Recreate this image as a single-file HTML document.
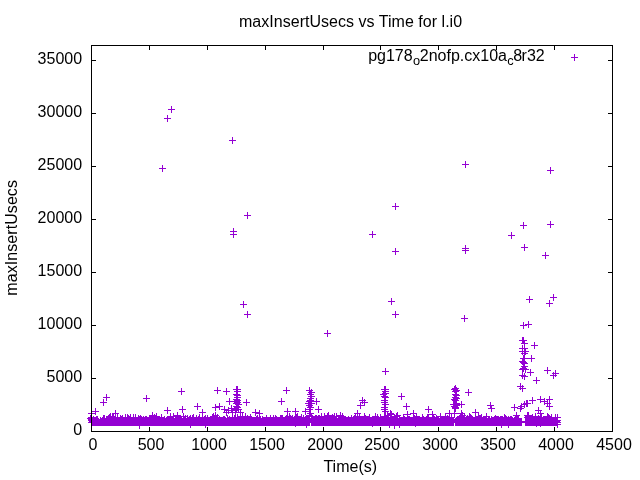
<!DOCTYPE html>
<html><head><meta charset="utf-8"><style>html,body{margin:0;padding:0;background:#fff;width:640px;height:480px;overflow:hidden}svg{display:block;will-change:transform}</style></head>
<body><svg width="640" height="480" viewBox="0 0 640 480"><rect width="640" height="480" fill="#fff"/><path d="M92 378.5h4M612 378.5h-4M92 325.5h4M612 325.5h-4M92 272.5h4M612 272.5h-4M92 219.5h4M612 219.5h-4M92 166.5h4M612 166.5h-4M92 113.5h4M612 113.5h-4M92 60.5h4M612 60.5h-4M149.5 431v-4M149.5 46v4M207.5 431v-4M207.5 46v4M265.5 431v-4M265.5 46v4M323.5 431v-4M323.5 46v4M380.5 431v-4M380.5 46v4M438.5 431v-4M438.5 46v4M496.5 431v-4M496.5 46v4M554.5 431v-4M554.5 46v4" stroke="#000" stroke-width="1" fill="none" shape-rendering="crispEdges"/><path d="M171 106h1v1h-1zM171 107h1v1h-1zM171 108h1v1h-1zM168 109h7v1h-7zM171 110h1v1h-1zM171 111h1v1h-1zM171 112h1v1h-1zM167 115h1v1h-1zM167 116h1v1h-1zM167 117h1v1h-1zM164 118h7v1h-7zM167 119h1v1h-1zM167 120h1v1h-1zM167 121h1v1h-1zM232 137h1v1h-1zM232 138h1v1h-1zM232 139h1v1h-1zM229 140h7v1h-7zM232 141h1v1h-1zM232 142h1v1h-1zM232 143h1v1h-1zM465 161h1v1h-1zM465 162h1v1h-1zM465 163h1v1h-1zM462 164h7v1h-7zM162 165h1v1h-1zM465 165h1v1h-1zM162 166h1v1h-1zM465 166h1v1h-1zM162 167h1v1h-1zM465 167h1v1h-1zM550 167h1v1h-1zM159 168h7v1h-7zM550 168h1v1h-1zM162 169h1v1h-1zM550 169h1v1h-1zM162 170h1v1h-1zM547 170h7v1h-7zM162 171h1v1h-1zM550 171h1v1h-1zM550 172h1v1h-1zM550 173h1v1h-1zM395 203h1v1h-1zM395 204h1v1h-1zM395 205h1v1h-1zM392 206h7v1h-7zM395 207h1v1h-1zM395 208h1v1h-1zM395 209h1v1h-1zM247 212h1v1h-1zM247 213h1v1h-1zM247 214h1v1h-1zM244 215h7v1h-7zM247 216h1v1h-1zM247 217h1v1h-1zM247 218h1v1h-1zM550 221h1v1h-1zM523 222h1v1h-1zM550 222h1v1h-1zM523 223h1v1h-1zM550 223h1v1h-1zM523 224h1v1h-1zM547 224h7v1h-7zM520 225h7v1h-7zM550 225h1v1h-1zM523 226h1v1h-1zM550 226h1v1h-1zM523 227h1v1h-1zM550 227h1v1h-1zM233 228h1v1h-1zM523 228h1v1h-1zM233 229h1v1h-1zM233 230h1v1h-1zM230 231h7v1h-7zM372 231h1v1h-1zM233 232h1v1h-1zM372 232h1v1h-1zM511 232h1v1h-1zM233 233h1v1h-1zM372 233h1v1h-1zM511 233h1v1h-1zM230 234h7v1h-7zM369 234h7v1h-7zM511 234h1v1h-1zM233 235h1v1h-1zM372 235h1v1h-1zM508 235h7v1h-7zM233 236h1v1h-1zM372 236h1v1h-1zM511 236h1v1h-1zM233 237h1v1h-1zM372 237h1v1h-1zM511 237h1v1h-1zM511 238h1v1h-1zM524 244h1v1h-1zM465 245h1v1h-1zM524 245h1v1h-1zM465 246h1v1h-1zM524 246h1v1h-1zM465 247h1v1h-1zM521 247h7v1h-7zM395 248h1v1h-1zM462 248h7v1h-7zM524 248h1v1h-1zM395 249h1v1h-1zM465 249h1v1h-1zM524 249h1v1h-1zM395 250h1v1h-1zM462 250h7v1h-7zM524 250h1v1h-1zM392 251h7v1h-7zM465 251h1v1h-1zM395 252h1v1h-1zM465 252h1v1h-1zM545 252h1v1h-1zM395 253h1v1h-1zM465 253h1v1h-1zM545 253h1v1h-1zM395 254h1v1h-1zM545 254h1v1h-1zM542 255h7v1h-7zM545 256h1v1h-1zM545 257h1v1h-1zM545 258h1v1h-1zM553 294h1v1h-1zM553 295h1v1h-1zM529 296h1v1h-1zM553 296h1v1h-1zM529 297h1v1h-1zM550 297h7v1h-7zM391 298h1v1h-1zM529 298h1v1h-1zM553 298h1v1h-1zM391 299h1v1h-1zM526 299h7v1h-7zM553 299h1v1h-1zM391 300h1v1h-1zM529 300h1v1h-1zM549 300h1v1h-1zM553 300h1v1h-1zM243 301h1v1h-1zM388 301h7v1h-7zM529 301h1v1h-1zM549 301h1v1h-1zM243 302h1v1h-1zM391 302h1v1h-1zM529 302h1v1h-1zM549 302h1v1h-1zM243 303h1v1h-1zM391 303h1v1h-1zM546 303h7v1h-7zM240 304h7v1h-7zM391 304h1v1h-1zM549 304h1v1h-1zM243 305h1v1h-1zM549 305h1v1h-1zM243 306h1v1h-1zM549 306h1v1h-1zM243 307h1v1h-1zM247 311h1v1h-1zM395 311h1v1h-1zM247 312h1v1h-1zM395 312h1v1h-1zM247 313h1v1h-1zM395 313h1v1h-1zM244 314h7v1h-7zM392 314h7v1h-7zM247 315h1v1h-1zM395 315h1v1h-1zM464 315h1v1h-1zM247 316h1v1h-1zM395 316h1v1h-1zM464 316h1v1h-1zM247 317h1v1h-1zM395 317h1v1h-1zM464 317h1v1h-1zM461 318h7v1h-7zM464 319h1v1h-1zM464 320h1v1h-1zM464 321h1v1h-1zM528 321h1v1h-1zM523 322h1v1h-1zM528 322h1v1h-1zM523 323h1v1h-1zM528 323h1v1h-1zM523 324h1v1h-1zM525 324h7v1h-7zM520 325h7v1h-7zM528 325h1v1h-1zM523 326h1v1h-1zM528 326h1v1h-1zM523 327h1v1h-1zM528 327h1v1h-1zM523 328h1v1h-1zM327 330h1v1h-1zM327 331h1v1h-1zM327 332h1v1h-1zM324 333h7v1h-7zM327 334h1v1h-1zM327 335h1v1h-1zM327 336h1v1h-1zM522 337h2v1h-2zM522 338h2v1h-2zM522 339h2v1h-2zM519 340h8v1h-8zM522 341h3v1h-3zM522 342h3v1h-3zM534 342h1v1h-1zM521 343h7v1h-7zM534 343h1v1h-1zM524 344h1v1h-1zM534 344h1v1h-1zM522 345h1v1h-1zM524 345h1v1h-1zM531 345h7v1h-7zM522 346h1v1h-1zM524 346h1v1h-1zM534 346h1v1h-1zM522 347h1v1h-1zM524 347h1v1h-1zM534 347h1v1h-1zM519 348h9v1h-9zM534 348h1v1h-1zM522 349h1v1h-1zM524 349h2v1h-2zM522 350h1v1h-1zM524 350h2v1h-2zM519 351h10v1h-10zM522 352h1v1h-1zM524 352h2v1h-2zM521 353h7v1h-7zM522 354h1v1h-1zM524 354h2v1h-2zM523 355h2v1h-2zM531 355h1v1h-1zM523 356h2v1h-2zM531 356h1v1h-1zM523 357h2v1h-2zM531 357h1v1h-1zM520 358h15v1h-15zM522 359h3v1h-3zM531 359h1v1h-1zM522 360h3v1h-3zM531 360h1v1h-1zM519 361h7v1h-7zM531 361h1v1h-1zM520 362h7v1h-7zM521 363h7v1h-7zM522 364h3v1h-3zM523 365h2v1h-2zM521 366h7v1h-7zM522 367h4v1h-4zM547 367h1v1h-1zM385 368h1v1h-1zM520 368h7v1h-7zM547 368h1v1h-1zM385 369h1v1h-1zM519 369h10v1h-10zM530 369h1v1h-1zM547 369h1v1h-1zM385 370h1v1h-1zM522 370h2v1h-2zM525 370h1v1h-1zM530 370h1v1h-1zM544 370h7v1h-7zM555 370h1v1h-1zM382 371h7v1h-7zM522 371h2v1h-2zM525 371h1v1h-1zM530 371h1v1h-1zM547 371h1v1h-1zM555 371h1v1h-1zM385 372h1v1h-1zM522 372h1v1h-1zM525 372h1v1h-1zM527 372h7v1h-7zM547 372h1v1h-1zM553 372h1v1h-1zM555 372h1v1h-1zM385 373h1v1h-1zM522 373h1v1h-1zM524 373h1v1h-1zM530 373h1v1h-1zM547 373h1v1h-1zM552 373h7v1h-7zM385 374h1v1h-1zM522 374h1v1h-1zM524 374h1v1h-1zM530 374h1v1h-1zM553 374h1v1h-1zM555 374h1v1h-1zM519 375h7v1h-7zM530 375h1v1h-1zM550 375h7v1h-7zM521 376h7v1h-7zM553 376h1v1h-1zM555 376h1v1h-1zM522 377h1v1h-1zM524 377h1v1h-1zM536 377h1v1h-1zM553 377h1v1h-1zM522 378h1v1h-1zM524 378h1v1h-1zM536 378h1v1h-1zM553 378h1v1h-1zM524 379h1v1h-1zM536 379h1v1h-1zM533 380h7v1h-7zM536 381h1v1h-1zM536 382h1v1h-1zM520 383h1v1h-1zM536 383h1v1h-1zM520 384h1v1h-1zM455 385h1v1h-1zM520 385h1v1h-1zM522 385h1v1h-1zM236 386h2v1h-2zM384 386h2v1h-2zM454 386h2v1h-2zM517 386h7v1h-7zM217 387h1v1h-1zM236 387h2v1h-2zM286 387h1v1h-1zM309 387h1v1h-1zM384 387h2v1h-2zM454 387h3v1h-3zM520 387h1v1h-1zM522 387h1v1h-1zM181 388h1v1h-1zM217 388h1v1h-1zM226 388h1v1h-1zM236 388h2v1h-2zM286 388h1v1h-1zM309 388h1v1h-1zM384 388h2v1h-2zM452 388h7v1h-7zM519 388h7v1h-7zM181 389h1v1h-1zM217 389h1v1h-1zM226 389h1v1h-1zM233 389h8v1h-8zM286 389h1v1h-1zM309 389h1v1h-1zM311 389h1v1h-1zM381 389h8v1h-8zM451 389h7v1h-7zM468 389h1v1h-1zM520 389h1v1h-1zM522 389h1v1h-1zM181 390h1v1h-1zM214 390h7v1h-7zM226 390h1v1h-1zM236 390h2v1h-2zM283 390h7v1h-7zM306 390h7v1h-7zM384 390h2v1h-2zM453 390h7v1h-7zM468 390h1v1h-1zM522 390h1v1h-1zM178 391h7v1h-7zM217 391h1v1h-1zM223 391h7v1h-7zM234 391h7v1h-7zM286 391h1v1h-1zM309 391h3v1h-3zM382 391h7v1h-7zM452 391h7v1h-7zM468 391h1v1h-1zM522 391h1v1h-1zM181 392h1v1h-1zM217 392h1v1h-1zM226 392h1v1h-1zM236 392h2v1h-2zM286 392h1v1h-1zM308 392h7v1h-7zM383 392h3v1h-3zM454 392h3v1h-3zM465 392h7v1h-7zM181 393h1v1h-1zM217 393h1v1h-1zM226 393h1v1h-1zM236 393h2v1h-2zM286 393h1v1h-1zM309 393h3v1h-3zM382 393h7v1h-7zM401 393h1v1h-1zM455 393h2v1h-2zM468 393h1v1h-1zM106 394h1v1h-1zM181 394h1v1h-1zM226 394h1v1h-1zM233 394h7v1h-7zM307 394h7v1h-7zM380 394h7v1h-7zM401 394h1v1h-1zM452 394h7v1h-7zM468 394h1v1h-1zM106 395h1v1h-1zM146 395h1v1h-1zM234 395h7v1h-7zM310 395h2v1h-2zM383 395h3v1h-3zM401 395h1v1h-1zM453 395h7v1h-7zM468 395h1v1h-1zM106 396h1v1h-1zM146 396h1v1h-1zM236 396h2v1h-2zM308 396h7v1h-7zM381 396h7v1h-7zM398 396h7v1h-7zM454 396h3v1h-3zM540 396h1v1h-1zM549 396h1v1h-1zM103 397h7v1h-7zM146 397h1v1h-1zM234 397h7v1h-7zM310 397h2v1h-2zM362 397h1v1h-1zM382 397h7v1h-7zM401 397h1v1h-1zM452 397h7v1h-7zM532 397h1v1h-1zM540 397h1v1h-1zM549 397h1v1h-1zM106 398h1v1h-1zM143 398h7v1h-7zM229 398h1v1h-1zM236 398h2v1h-2zM281 398h1v1h-1zM307 398h7v1h-7zM316 398h1v1h-1zM362 398h1v1h-1zM384 398h2v1h-2zM401 398h1v1h-1zM453 398h7v1h-7zM532 398h1v1h-1zM540 398h1v1h-1zM544 398h1v1h-1zM549 398h1v1h-1zM103 399h1v1h-1zM106 399h1v1h-1zM146 399h1v1h-1zM229 399h1v1h-1zM233 399h7v1h-7zM246 399h1v1h-1zM281 399h1v1h-1zM309 399h3v1h-3zM316 399h1v1h-1zM362 399h1v1h-1zM364 399h1v1h-1zM384 399h2v1h-2zM401 399h1v1h-1zM451 399h7v1h-7zM532 399h1v1h-1zM537 399h8v1h-8zM546 399h7v1h-7zM103 400h1v1h-1zM106 400h1v1h-1zM146 400h1v1h-1zM229 400h1v1h-1zM234 400h7v1h-7zM246 400h1v1h-1zM281 400h1v1h-1zM307 400h7v1h-7zM316 400h1v1h-1zM359 400h7v1h-7zM381 400h7v1h-7zM452 400h7v1h-7zM526 400h2v1h-2zM529 400h7v1h-7zM540 400h1v1h-1zM544 400h1v1h-1zM547 400h1v1h-1zM549 400h1v1h-1zM103 401h1v1h-1zM146 401h1v1h-1zM226 401h14v1h-14zM246 401h1v1h-1zM278 401h7v1h-7zM306 401h14v1h-14zM362 401h1v1h-1zM364 401h1v1h-1zM384 401h2v1h-2zM453 401h4v1h-4zM461 401h1v1h-1zM524 401h1v1h-1zM526 401h2v1h-2zM532 401h1v1h-1zM540 401h8v1h-8zM549 401h1v1h-1zM100 402h7v1h-7zM229 402h1v1h-1zM234 402h7v1h-7zM243 402h7v1h-7zM281 402h1v1h-1zM308 402h4v1h-4zM316 402h1v1h-1zM360 402h8v1h-8zM381 402h7v1h-7zM453 402h4v1h-4zM461 402h1v1h-1zM490 402h1v1h-1zM524 402h1v1h-1zM526 402h2v1h-2zM532 402h1v1h-1zM540 402h1v1h-1zM544 402h1v1h-1zM547 402h1v1h-1zM549 402h1v1h-1zM103 403h1v1h-1zM197 403h1v1h-1zM219 403h1v1h-1zM229 403h1v1h-1zM233 403h7v1h-7zM246 403h1v1h-1zM281 403h1v1h-1zM305 403h10v1h-10zM316 403h1v1h-1zM360 403h1v1h-1zM362 403h1v1h-1zM364 403h1v1h-1zM384 403h2v1h-2zM406 403h1v1h-1zM453 403h7v1h-7zM461 403h1v1h-1zM490 403h1v1h-1zM521 403h1v1h-1zM523 403h8v1h-8zM532 403h1v1h-1zM544 403h7v1h-7zM103 404h1v1h-1zM197 404h1v1h-1zM215 404h1v1h-1zM219 404h1v1h-1zM229 404h1v1h-1zM235 404h7v1h-7zM246 404h1v1h-1zM281 404h1v1h-1zM308 404h4v1h-4zM316 404h1v1h-1zM360 404h1v1h-1zM364 404h1v1h-1zM382 404h7v1h-7zM406 404h1v1h-1zM450 404h15v1h-15zM490 404h1v1h-1zM514 404h1v1h-1zM521 404h7v1h-7zM544 404h1v1h-1zM547 404h1v1h-1zM549 404h1v1h-1zM103 405h1v1h-1zM197 405h1v1h-1zM215 405h1v1h-1zM219 405h1v1h-1zM231 405h1v1h-1zM236 405h3v1h-3zM246 405h1v1h-1zM306 405h7v1h-7zM357 405h8v1h-8zM384 405h2v1h-2zM406 405h1v1h-1zM453 405h7v1h-7zM461 405h1v1h-1zM487 405h7v1h-7zM514 405h1v1h-1zM520 405h2v1h-2zM524 405h1v1h-1zM526 405h2v1h-2zM547 405h1v1h-1zM549 405h1v1h-1zM182 406h1v1h-1zM194 406h7v1h-7zM215 406h8v1h-8zM224 406h1v1h-1zM231 406h1v1h-1zM233 406h7v1h-7zM308 406h4v1h-4zM318 406h1v1h-1zM360 406h1v1h-1zM384 406h2v1h-2zM403 406h7v1h-7zM428 406h1v1h-1zM451 406h7v1h-7zM461 406h1v1h-1zM490 406h2v1h-2zM514 406h1v1h-1zM518 406h7v1h-7zM526 406h2v1h-2zM546 406h7v1h-7zM167 407h1v1h-1zM182 407h1v1h-1zM197 407h1v1h-1zM212 407h8v1h-8zM224 407h1v1h-1zM228 407h1v1h-1zM231 407h1v1h-1zM234 407h7v1h-7zM307 407h7v1h-7zM318 407h1v1h-1zM360 407h1v1h-1zM381 407h7v1h-7zM406 407h1v1h-1zM428 407h1v1h-1zM452 407h7v1h-7zM461 407h1v1h-1zM490 407h2v1h-2zM511 407h7v1h-7zM520 407h2v1h-2zM524 407h1v1h-1zM538 407h1v1h-1zM549 407h1v1h-1zM95 408h1v1h-1zM167 408h1v1h-1zM182 408h1v1h-1zM197 408h1v1h-1zM215 408h1v1h-1zM219 408h1v1h-1zM224 408h1v1h-1zM228 408h11v1h-11zM287 408h1v1h-1zM295 408h1v1h-1zM305 408h1v1h-1zM309 408h2v1h-2zM318 408h1v1h-1zM360 408h1v1h-1zM384 408h2v1h-2zM406 408h1v1h-1zM428 408h1v1h-1zM452 408h7v1h-7zM488 408h7v1h-7zM514 408h1v1h-1zM517 408h7v1h-7zM538 408h1v1h-1zM549 408h1v1h-1zM95 409h1v1h-1zM167 409h1v1h-1zM179 409h7v1h-7zM197 409h1v1h-1zM202 409h1v1h-1zM215 409h1v1h-1zM219 409h1v1h-1zM221 409h8v1h-8zM231 409h11v1h-11zM255 409h1v1h-1zM287 409h1v1h-1zM295 409h1v1h-1zM305 409h8v1h-8zM315 409h7v1h-7zM381 409h7v1h-7zM406 409h1v1h-1zM425 409h7v1h-7zM454 409h2v1h-2zM475 409h1v1h-1zM491 409h1v1h-1zM514 409h1v1h-1zM520 409h2v1h-2zM538 409h1v1h-1zM549 409h1v1h-1zM91 410h1v1h-1zM95 410h1v1h-1zM115 410h1v1h-1zM164 410h7v1h-7zM182 410h1v1h-1zM202 410h1v1h-1zM215 410h1v1h-1zM224 410h15v1h-15zM240 410h1v1h-1zM255 410h1v1h-1zM259 410h1v1h-1zM287 410h1v1h-1zM295 410h1v1h-1zM305 410h1v1h-1zM309 410h2v1h-2zM318 410h1v1h-1zM357 410h1v1h-1zM384 410h2v1h-2zM390 410h1v1h-1zM413 410h1v1h-1zM428 410h1v1h-1zM449 410h1v1h-1zM454 410h2v1h-2zM461 410h1v1h-1zM475 410h1v1h-1zM491 410h1v1h-1zM514 410h1v1h-1zM520 410h1v1h-1zM535 410h7v1h-7zM91 411h8v1h-8zM115 411h1v1h-1zM167 411h1v1h-1zM182 411h1v1h-1zM202 411h1v1h-1zM224 411h1v1h-1zM226 411h1v1h-1zM228 411h1v1h-1zM231 411h2v1h-2zM235 411h2v1h-2zM238 411h1v1h-1zM240 411h1v1h-1zM255 411h1v1h-1zM259 411h1v1h-1zM284 411h7v1h-7zM292 411h7v1h-7zM302 411h9v1h-9zM318 411h1v1h-1zM357 411h1v1h-1zM382 411h7v1h-7zM390 411h2v1h-2zM407 411h1v1h-1zM413 411h1v1h-1zM428 411h1v1h-1zM432 411h1v1h-1zM449 411h1v1h-1zM454 411h2v1h-2zM461 411h1v1h-1zM475 411h1v1h-1zM491 411h1v1h-1zM520 411h1v1h-1zM538 411h1v1h-1zM540 411h1v1h-1zM91 412h1v1h-1zM95 412h1v1h-1zM115 412h1v1h-1zM152 412h1v1h-1zM167 412h1v1h-1zM177 412h1v1h-1zM182 412h1v1h-1zM199 412h7v1h-7zM215 412h1v1h-1zM223 412h21v1h-21zM252 412h8v1h-8zM287 412h1v1h-1zM295 412h1v1h-1zM305 412h1v1h-1zM309 412h2v1h-2zM318 412h1v1h-1zM328 412h1v1h-1zM340 412h1v1h-1zM357 412h1v1h-1zM384 412h2v1h-2zM387 412h1v1h-1zM390 412h2v1h-2zM397 412h1v1h-1zM407 412h1v1h-1zM413 412h1v1h-1zM428 412h1v1h-1zM432 412h1v1h-1zM449 412h1v1h-1zM454 412h1v1h-1zM461 412h2v1h-2zM472 412h7v1h-7zM516 412h1v1h-1zM527 412h2v1h-2zM538 412h1v1h-1zM540 412h1v1h-1zM88 413h8v1h-8zM110 413h1v1h-1zM112 413h7v1h-7zM152 413h1v1h-1zM156 413h1v1h-1zM167 413h1v1h-1zM170 413h1v1h-1zM173 413h1v1h-1zM177 413h1v1h-1zM183 413h1v1h-1zM202 413h1v1h-1zM213 413h1v1h-1zM215 413h1v1h-1zM226 413h1v1h-1zM228 413h1v1h-1zM232 413h1v1h-1zM235 413h1v1h-1zM240 413h1v1h-1zM242 413h1v1h-1zM245 413h1v1h-1zM255 413h8v1h-8zM287 413h1v1h-1zM289 413h1v1h-1zM295 413h1v1h-1zM297 413h1v1h-1zM305 413h1v1h-1zM307 413h7v1h-7zM321 413h1v1h-1zM324 413h1v1h-1zM327 413h2v1h-2zM334 413h1v1h-1zM336 413h1v1h-1zM340 413h1v1h-1zM342 413h1v1h-1zM354 413h7v1h-7zM364 413h1v1h-1zM375 413h1v1h-1zM384 413h2v1h-2zM387 413h7v1h-7zM396 413h2v1h-2zM407 413h1v1h-1zM410 413h7v1h-7zM432 413h1v1h-1zM440 413h1v1h-1zM445 413h20v1h-20zM469 413h1v1h-1zM475 413h1v1h-1zM478 413h1v1h-1zM486 413h1v1h-1zM516 413h1v1h-1zM527 413h2v1h-2zM535 413h1v1h-1zM537 413h7v1h-7zM547 413h1v1h-1zM91 414h1v1h-1zM95 414h1v1h-1zM109 414h2v1h-2zM112 414h2v1h-2zM115 414h1v1h-1zM117 414h1v1h-1zM125 414h1v1h-1zM127 414h1v1h-1zM130 414h1v1h-1zM133 414h1v1h-1zM135 414h1v1h-1zM152 414h1v1h-1zM154 414h1v1h-1zM156 414h1v1h-1zM161 414h1v1h-1zM170 414h1v1h-1zM173 414h1v1h-1zM177 414h1v1h-1zM183 414h1v1h-1zM193 414h1v1h-1zM199 414h1v1h-1zM202 414h1v1h-1zM212 414h2v1h-2zM215 414h1v1h-1zM217 414h1v1h-1zM226 414h1v1h-1zM232 414h1v1h-1zM235 414h1v1h-1zM237 414h1v1h-1zM240 414h1v1h-1zM242 414h1v1h-1zM245 414h1v1h-1zM250 414h1v1h-1zM255 414h1v1h-1zM259 414h1v1h-1zM287 414h1v1h-1zM289 414h1v1h-1zM295 414h3v1h-3zM301 414h1v1h-1zM305 414h1v1h-1zM309 414h3v1h-3zM321 414h1v1h-1zM324 414h1v1h-1zM327 414h2v1h-2zM332 414h1v1h-1zM334 414h1v1h-1zM336 414h1v1h-1zM340 414h1v1h-1zM342 414h1v1h-1zM355 414h1v1h-1zM357 414h1v1h-1zM359 414h1v1h-1zM364 414h1v1h-1zM369 414h1v1h-1zM375 414h1v1h-1zM377 414h1v1h-1zM380 414h1v1h-1zM384 414h2v1h-2zM387 414h8v1h-8zM396 414h2v1h-2zM403 414h8v1h-8zM413 414h1v1h-1zM416 414h1v1h-1zM422 414h1v1h-1zM427 414h9v1h-9zM440 414h1v1h-1zM445 414h1v1h-1zM449 414h1v1h-1zM451 414h1v1h-1zM454 414h1v1h-1zM460 414h3v1h-3zM464 414h1v1h-1zM469 414h2v1h-2zM475 414h1v1h-1zM478 414h1v1h-1zM481 414h1v1h-1zM486 414h1v1h-1zM504 414h1v1h-1zM516 414h1v1h-1zM527 414h2v1h-2zM532 414h1v1h-1zM535 414h1v1h-1zM540 414h2v1h-2zM547 414h2v1h-2zM551 414h1v1h-1zM555 414h1v1h-1zM557 414h1v1h-1zM90 415h2v1h-2zM103 415h2v1h-2zM108 415h3v1h-3zM112 415h2v1h-2zM115 415h1v1h-1zM117 415h1v1h-1zM120 415h1v1h-1zM122 415h1v1h-1zM125 415h1v1h-1zM127 415h2v1h-2zM130 415h1v1h-1zM133 415h1v1h-1zM135 415h1v1h-1zM138 415h1v1h-1zM140 415h1v1h-1zM149 415h8v1h-8zM161 415h1v1h-1zM170 415h1v1h-1zM173 415h8v1h-8zM183 415h1v1h-1zM185 415h1v1h-1zM187 415h1v1h-1zM190 415h1v1h-1zM192 415h2v1h-2zM196 415h1v1h-1zM199 415h1v1h-1zM202 415h1v1h-1zM205 415h1v1h-1zM207 415h1v1h-1zM212 415h7v1h-7zM226 415h2v1h-2zM232 415h1v1h-1zM234 415h2v1h-2zM237 415h1v1h-1zM240 415h1v1h-1zM242 415h1v1h-1zM245 415h1v1h-1zM247 415h1v1h-1zM250 415h1v1h-1zM255 415h1v1h-1zM257 415h1v1h-1zM259 415h1v1h-1zM266 415h1v1h-1zM270 415h1v1h-1zM273 415h1v1h-1zM275 415h1v1h-1zM280 415h3v1h-3zM286 415h2v1h-2zM289 415h2v1h-2zM292 415h1v1h-1zM295 415h3v1h-3zM301 415h1v1h-1zM303 415h1v1h-1zM306 415h7v1h-7zM315 415h2v1h-2zM318 415h2v1h-2zM321 415h1v1h-1zM324 415h11v1h-11zM336 415h8v1h-8zM351 415h1v1h-1zM354 415h2v1h-2zM357 415h1v1h-1zM359 415h1v1h-1zM364 415h2v1h-2zM369 415h1v1h-1zM375 415h1v1h-1zM377 415h1v1h-1zM380 415h1v1h-1zM384 415h8v1h-8zM394 415h7v1h-7zM403 415h1v1h-1zM407 415h1v1h-1zM413 415h2v1h-2zM416 415h1v1h-1zM422 415h1v1h-1zM427 415h2v1h-2zM432 415h2v1h-2zM436 415h1v1h-1zM440 415h1v1h-1zM445 415h1v1h-1zM447 415h1v1h-1zM449 415h1v1h-1zM451 415h1v1h-1zM454 415h1v1h-1zM459 415h7v1h-7zM467 415h1v1h-1zM469 415h3v1h-3zM475 415h1v1h-1zM478 415h4v1h-4zM486 415h1v1h-1zM495 415h1v1h-1zM504 415h2v1h-2zM513 415h7v1h-7zM524 415h9v1h-9zM535 415h1v1h-1zM538 415h1v1h-1zM540 415h2v1h-2zM547 415h3v1h-3zM551 415h1v1h-1zM555 415h1v1h-1zM557 415h1v1h-1zM90 416h2v1h-2zM93 416h1v1h-1zM96 416h2v1h-2zM103 416h2v1h-2zM106 416h10v1h-10zM117 416h1v1h-1zM120 416h3v1h-3zM125 416h1v1h-1zM127 416h4v1h-4zM133 416h1v1h-1zM135 416h1v1h-1zM138 416h4v1h-4zM143 416h1v1h-1zM145 416h2v1h-2zM149 416h11v1h-11zM161 416h1v1h-1zM164 416h1v1h-1zM167 416h21v1h-21zM189 416h2v1h-2zM192 416h2v1h-2zM196 416h1v1h-1zM198 416h2v1h-2zM202 416h1v1h-1zM204 416h2v1h-2zM207 416h1v1h-1zM210 416h8v1h-8zM219 416h1v1h-1zM223 416h2v1h-2zM227 416h1v1h-1zM229 416h1v1h-1zM232 416h1v1h-1zM234 416h2v1h-2zM237 416h15v1h-15zM256 416h2v1h-2zM259 416h2v1h-2zM262 416h1v1h-1zM266 416h1v1h-1zM270 416h1v1h-1zM273 416h1v1h-1zM275 416h2v1h-2zM280 416h3v1h-3zM285 416h8v1h-8zM294 416h8v1h-8zM303 416h1v1h-1zM305 416h41v1h-41zM348 416h1v1h-1zM351 416h1v1h-1zM353 416h17v1h-17zM372 416h7v1h-7zM380 416h9v1h-9zM390 416h10v1h-10zM403 416h2v1h-2zM407 416h3v1h-3zM413 416h7v1h-7zM422 416h2v1h-2zM426 416h3v1h-3zM432 416h3v1h-3zM436 416h14v1h-14zM451 416h1v1h-1zM454 416h1v1h-1zM457 416h8v1h-8zM466 416h7v1h-7zM475 416h7v1h-7zM483 416h7v1h-7zM491 416h1v1h-1zM494 416h5v1h-5zM500 416h3v1h-3zM504 416h3v1h-3zM508 416h1v1h-1zM510 416h2v1h-2zM515 416h4v1h-4zM525 416h17v1h-17zM543 416h9v1h-9zM555 416h1v1h-1zM557 416h1v1h-1zM88 417h10v1h-10zM100 417h1v1h-1zM102 417h3v1h-3zM106 417h59v1h-59zM166 417h8v1h-8zM175 417h7v1h-7zM183 417h3v1h-3zM187 417h39v1h-39zM227 417h34v1h-34zM262 417h48v1h-48zM311 417h26v1h-26zM338 417h60v1h-60zM399 417h40v1h-40zM440 417h15v1h-15zM456 417h31v1h-31zM488 417h2v1h-2zM491 417h22v1h-22zM514 417h5v1h-5zM524 417h37v1h-37zM87 418h12v1h-12zM100 418h354v1h-354zM455 418h67v1h-67zM525 418h33v1h-33zM88 419h434v1h-434zM525 419h33v1h-33zM88 420h434v1h-434zM525 420h36v1h-36zM89 421h471v1h-471zM88 422h473v1h-473zM91 423h219v1h-219zM311 423h143v1h-143zM455 423h67v1h-67zM525 423h33v1h-33zM91 424h219v1h-219zM311 424h143v1h-143zM455 424h67v1h-67zM525 424h36v1h-36zM91 425h219v1h-219zM311 425h143v1h-143zM455 425h67v1h-67zM525 425h33v1h-33zM139 426h1v1h-1zM190 426h1v1h-1zM205 426h1v1h-1zM295 426h1v1h-1zM306 426h1v1h-1zM372 426h1v1h-1zM389 426h1v1h-1zM394 426h1v1h-1zM399 426h1v1h-1zM415 426h1v1h-1zM501 426h1v1h-1zM508 426h1v1h-1zM536 426h1v1h-1zM540 426h1v1h-1zM557 426h1v1h-1zM139 427h1v1h-1zM190 427h1v1h-1zM205 427h1v1h-1zM306 427h1v1h-1zM389 427h1v1h-1zM394 427h1v1h-1zM399 427h1v1h-1zM501 427h1v1h-1zM508 427h1v1h-1zM557 427h1v1h-1zM139 428h1v1h-1zM394 428h1v1h-1z" fill="#9400d3" shape-rendering="crispEdges"/><rect x="91.5" y="45.5" width="521" height="386" stroke="#000" stroke-width="1" fill="none"/><text x="82.1" y="435.0" text-anchor="end" font-family="Liberation Sans, sans-serif" font-size="16" fill="#000">0</text><text x="82.1" y="382.0" text-anchor="end" font-family="Liberation Sans, sans-serif" font-size="16" fill="#000">5000</text><text x="82.1" y="329.0" text-anchor="end" font-family="Liberation Sans, sans-serif" font-size="16" fill="#000">10000</text><text x="82.1" y="276.0" text-anchor="end" font-family="Liberation Sans, sans-serif" font-size="16" fill="#000">15000</text><text x="82.1" y="223.0" text-anchor="end" font-family="Liberation Sans, sans-serif" font-size="16" fill="#000">20000</text><text x="82.1" y="170.0" text-anchor="end" font-family="Liberation Sans, sans-serif" font-size="16" fill="#000">25000</text><text x="82.1" y="117.0" text-anchor="end" font-family="Liberation Sans, sans-serif" font-size="16" fill="#000">30000</text><text x="82.1" y="64.0" text-anchor="end" font-family="Liberation Sans, sans-serif" font-size="16" fill="#000">35000</text><text x="93.00" y="449.7" text-anchor="middle" font-family="Liberation Sans, sans-serif" font-size="16" fill="#000">0</text><text x="151.00" y="449.7" text-anchor="middle" font-family="Liberation Sans, sans-serif" font-size="16" fill="#000">500</text><text x="209.00" y="449.7" text-anchor="middle" font-family="Liberation Sans, sans-serif" font-size="16" fill="#000">1000</text><text x="267.00" y="449.7" text-anchor="middle" font-family="Liberation Sans, sans-serif" font-size="16" fill="#000">1500</text><text x="325.00" y="449.7" text-anchor="middle" font-family="Liberation Sans, sans-serif" font-size="16" fill="#000">2000</text><text x="382.00" y="449.7" text-anchor="middle" font-family="Liberation Sans, sans-serif" font-size="16" fill="#000">2500</text><text x="440.00" y="449.7" text-anchor="middle" font-family="Liberation Sans, sans-serif" font-size="16" fill="#000">3000</text><text x="498.00" y="449.7" text-anchor="middle" font-family="Liberation Sans, sans-serif" font-size="16" fill="#000">3500</text><text x="556.00" y="449.7" text-anchor="middle" font-family="Liberation Sans, sans-serif" font-size="16" fill="#000">4000</text><text x="614.00" y="449.7" text-anchor="middle" font-family="Liberation Sans, sans-serif" font-size="16" fill="#000">4500</text><text x="350.25" y="471.6" text-anchor="middle" font-family="Liberation Sans, sans-serif" font-size="16" fill="#000">Time(s)</text><text transform="translate(17 237.9) rotate(-90)" text-anchor="middle" textLength="115.7" lengthAdjust="spacing" font-family="Liberation Sans, sans-serif" font-size="16" fill="#000">maxInsertUsecs</text><text x="350.55" y="26.8" text-anchor="middle" textLength="223.1" lengthAdjust="spacing" font-family="Liberation Sans, sans-serif" font-size="16" fill="#000">maxInsertUsecs vs Time for l.i0</text><text x="368.15" y="60.7" font-family="Liberation Sans, sans-serif" font-size="16" fill="#000">pg178<tspan font-size="12.8" dx="0.3" dy="4">o</tspan><tspan dx="-0.3" dy="-4">2nofp.cx10a</tspan><tspan font-size="12.8" dx="0.3" dy="4">c</tspan><tspan dx="-0.3 -0.9 0.3 -0.25" dy="-4">8r32</tspan></text><path d="M571 57.5h7M574.5 54v7" stroke="#9400d3" stroke-width="1" shape-rendering="crispEdges"/></svg></body></html>
